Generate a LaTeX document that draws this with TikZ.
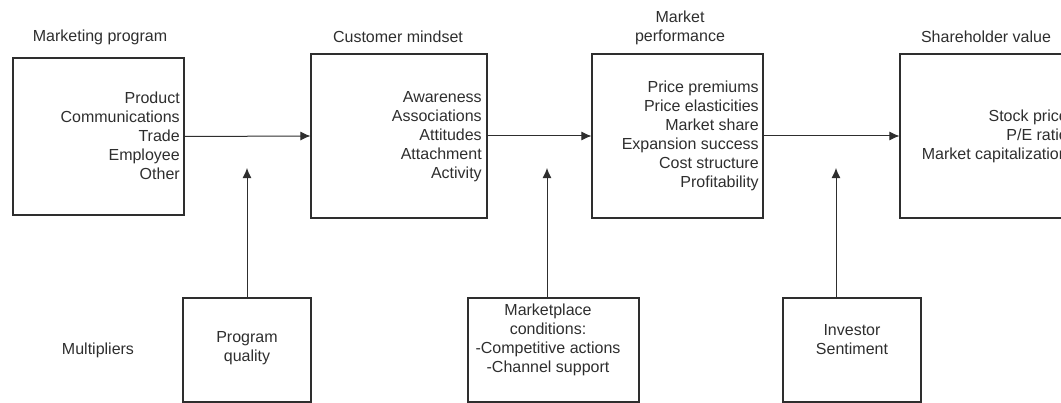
\documentclass[tikz,border=0pt]{standalone}
\usepackage{fontspec}
\setmainfont{Liberation Sans}
\usetikzlibrary{positioning}
\usetikzlibrary{calc}
\usetikzlibrary{arrows.meta}
\definecolor{ink}{rgb}{0.18,0.18,0.18}

\tikzset{
  stage/.style={draw=ink, thick, inner sep=0pt},
  lbl/.style={text=ink, font=\fontsize{12}{14.25}\selectfont, align=center, inner sep=0pt},
  items/.style={text=ink, font=\fontsize{12}{14.25}\selectfont, align=right, inner sep=0pt, anchor=east},
  flow/.style={draw=ink, line width=0.75pt, -{Latex[length=7.5pt, width=6.75pt]}},
}

\begin{document}
\begin{tikzpicture}[x=0.75pt, y=-0.75pt]

  \useasboundingbox (0,0) rectangle (1061,403);
  \clip (0,0) rectangle (1061,403);

  % Stages
  \node[stage, minimum width=171*0.75pt, minimum height=157*0.75pt] (mp) at (98.5,136.5) {};
  \node[stage, minimum width=176*0.75pt, minimum height=164*0.75pt] (cm) at (399,136) {};
  \node[stage, minimum width=171*0.75pt, minimum height=164*0.75pt] (perf) at (677.5,136) {};
  \node[stage, minimum width=190*0.75pt, minimum height=164*0.75pt] (shv) at (995,136) {};

  % Stage titles
  \node[lbl] (mptitle) at (100,37) {Marketing program};
  \node[lbl] (cmtitle) at (398,37) {Customer mindset};
  \node[lbl] (perftitle) at (680,27.5) {Market\\performance};
  \node[lbl] (shvtitle) at (986,37) {Shareholder value};

  % Stage contents
  \node[items] (mptext) at (180,135.5) {Product\\Communications\\Trade\\Employee\\Other};
  \node[items] (cmtext) at (482,136.5) {Awareness\\Associations\\Attitudes\\Attachment\\Activity};
  \node[items] (perftext) at (759,135.5) {Price premiums\\Price elasticities\\Market share\\Expansion success\\Cost structure\\Profitability};
  \node[items] (shvtext) at (1068,136) {Stock price\\P/E ratio\\Market capitalization};

  % Multipliers
  \node[lbl] (mult) at (98,350) {Multipliers};
  \node[stage, minimum width=128*0.75pt, minimum height=104*0.75pt] (pq) at (247,350) {};
  \node[stage, minimum width=171*0.75pt, minimum height=104*0.75pt] (mc) at (553.5,350) {};
  \node[stage, minimum width=138*0.75pt, minimum height=104*0.75pt] (inv) at (852,350) {};

  \node[lbl] (pqtext) at (247,348) {Program\\quality};
  \node[lbl] (mctext) at (548,339.5) {Marketplace\\conditions:\\-Competitive actions\\-Channel support};
  \node[lbl] (invtext) at (852,339.5) {Investor\\Sentiment};

  % Arrow tips of the multipliers
  \coordinate (pqtip) at (247,168);
  \coordinate (mctip) at (547,168);
  \coordinate (invtip) at (836,168);

  % Flow
  \draw[flow] (mp.east) -- (cm.west);
  \draw[flow] (cm.east) -- (perf.west);
  \draw[flow] (perf.east) -- (shv.west);

  \draw[flow] (pqtip |- pq.north) -- (pqtip);
  \draw[flow] (mctip |- mc.north) -- (mctip);
  \draw[flow] (invtip |- inv.north) -- (invtip);

\end{tikzpicture}
\end{document}
